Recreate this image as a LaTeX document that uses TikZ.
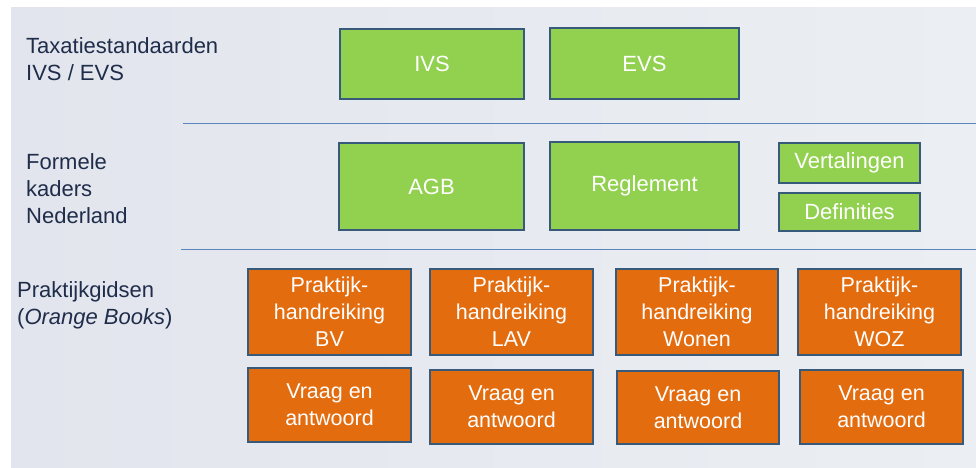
\documentclass[tikz,border=0pt]{standalone}
\usepackage{fontspec}
\setmainfont{Liberation Sans}
\definecolor{bgc}{HTML}{E2E5ED}
\definecolor{bgr}{HTML}{EBEEF2}
\definecolor{grn}{HTML}{92D050}
\definecolor{org}{HTML}{E36C0F}
\definecolor{bord}{HTML}{375A7A}
\definecolor{lbl}{HTML}{1F2D4A}
\definecolor{sep}{HTML}{5B86BD}
\tikzset{
  box/.style={draw=bord, line width=2pt, text=white, align=center, inner sep=0pt, anchor=center},
  gbox/.style={box, fill=grn, font=\fontsize{22}{27}\selectfont},
  obox/.style={box, fill=org, font=\fontsize{21.5}{27}\selectfont},
  lab/.style={text=lbl, align=left, anchor=north west, inner sep=0pt, font=\fontsize{22}{27}\selectfont},
  sepline/.style={draw=sep, line width=0.9pt}
}
\begin{document}
\begin{tikzpicture}[x=1pt,y=-1pt]
\useasboundingbox (0,0) rectangle (976,467);
\fill[white] (0,0) rectangle (976,467);
\shade[left color=bgc, right color=bgr] (11,7) rectangle (976,467);
% separators
\coordinate (s1a) at (183,123);
\coordinate (s1b) at (976,123);
\coordinate (s2a) at (181,249.5);
\coordinate (s2b) at (976,249.5);
\draw[sepline] (s1a) -- (s1b);
\draw[sepline] (s2a) -- (s2b);
% labels
\node[lab] (l1) at (26,37) {Taxatiestandaarden\\IVS / EVS};
\node[lab] (l2) at (26,153) {Formele\\kaders\\Nederland};
\node[lab] (l3) at (17,281) {Praktijkgidsen\\(\textit{Orange Books})};
% green boxes
\node[gbox, minimum width=184pt, minimum height=70pt] (ivs) at (432,64) {IVS};
\node[gbox, minimum width=189pt, minimum height=71pt] (evs) at (644.5,63.5) {EVS};
\node[gbox, minimum width=185pt, minimum height=87pt] (agb) at (431.5,186.5) {AGB};
\node[gbox, minimum width=189pt, minimum height=88pt] (reg) at (644.5,186) {Reglement};
\node[gbox, minimum width=141pt, minimum height=40pt] (vert) at (849.5,163) {Vertalingen};
\node[gbox, minimum width=141pt, minimum height=38pt] (def) at (849.5,212) {Definities};
% orange boxes
\node[obox, minimum width=163pt, minimum height=86pt] (bv) at (329.5,312) {Praktijk-\\handreiking\\BV};
\node[obox, minimum width=163pt, minimum height=86pt] (lav) at (511.5,312) {Praktijk-\\handreiking\\LAV};
\node[obox, minimum width=162pt, minimum height=86pt] (won) at (697,312) {Praktijk-\\handreiking\\Wonen};
\node[obox, minimum width=163pt, minimum height=86pt] (woz) at (879.5,312) {Praktijk-\\handreiking\\WOZ};
\node[obox, minimum width=163pt, minimum height=74pt] (bv2) at (329.5,405) {Vraag en\\antwoord};
\node[obox, minimum width=163pt, minimum height=74pt] (lav2) at (511.5,407) {Vraag en\\antwoord};
\node[obox, minimum width=162pt, minimum height=73pt] (won2) at (698,407.5) {Vraag en\\antwoord};
\node[obox, minimum width=163pt, minimum height=74pt] (woz2) at (881.5,407) {Vraag en\\antwoord};
\end{tikzpicture}
\end{document}
